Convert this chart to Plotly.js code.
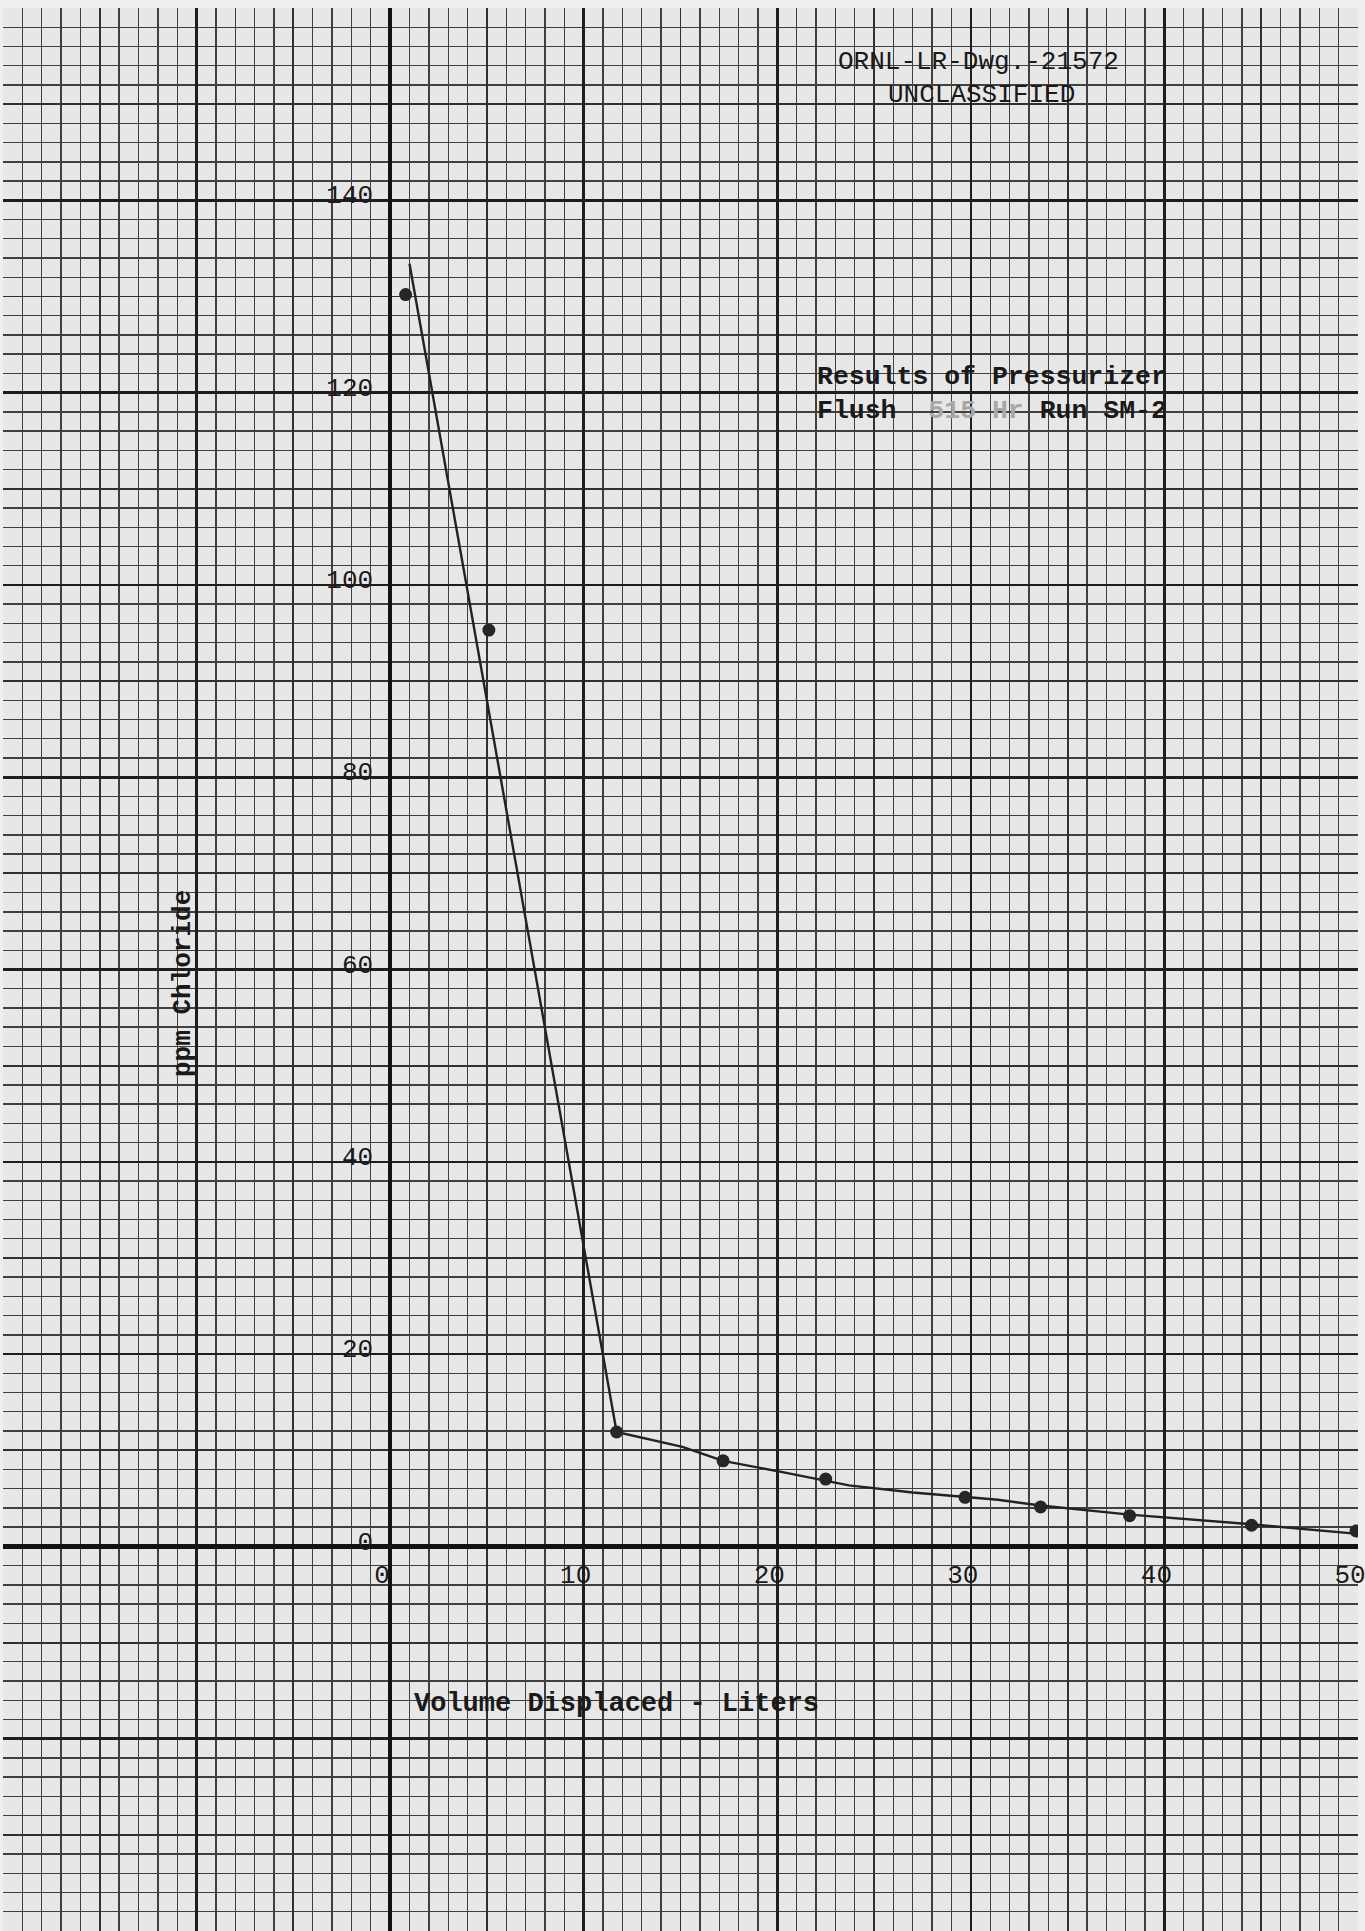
<!DOCTYPE html>
<html>
<head>
<meta charset="utf-8">
<script src="https://cdn.plot.ly/plotly-3.0.1.min.js"></script>
<style>
  html, body { margin: 0; padding: 0; background: #efefef; }
  #chart { width: 1365px; height: 1931px; }
</style>
</head>
<body>
<div id="chart"></div>
<script>
// Measured data points (volume displaced in liters, chloride in ppm)
const volumeLiters = [0.8, 5.1, 11.7, 17.2, 22.5, 29.7, 33.6, 38.2, 44.5, 49.9];
const chloridePpm  = [130.2, 95.3, 11.9, 8.9, 7.0, 5.1, 4.1, 3.2, 2.2, 1.6];

// Hand-drawn curve
const curveLiters = [1.0, 11.7, 15.1, 17.2, 20.2, 23.7, 27.0, 31.4, 33.6, 38.2, 44.5, 50.0];
const curvePpm    = [133.4, 11.9, 10.35, 8.9, 7.75, 6.35, 5.6, 4.85, 4.25, 3.3, 2.3, 1.3];

// Tick labels
const xTickVals = [-20, -10, 0, 10, 20, 30, 40, 50];
const xTickText = ['', '', '0', '10', '20', '30', '40', '50'];
const yTickVals = [-40, -20, 0, 20, 40, 60, 80, 100, 120, 140, 160];
const yTickText = ['', '', '0', '20', '40', '60', '80', '100', '120', '140', ''];

// Sheet extent (graph paper)
const xRange = [-20, 50];
const yRange = [-40, 160];

const INK = '#1a1a1a';
const MONO = '"Liberation Mono", "DejaVu Sans Mono", monospace';

const W = 1365, H = 1931;
const M = { l: 3, r: 7, t: 8, b: 0 };
const pw = W - M.l - M.r, ph = H - M.t - M.b;
const px = (x) => (x - M.l) / pw;       // page pixel -> paper fraction
const py = (y) => (H - M.b - y) / ph;

const traces = [
  {
    x: curveLiters, y: curvePpm, type: 'scatter', mode: 'lines',
    xaxis: 'x', yaxis: 'y',
    line: { color: '#222222', width: 2.4 },
    hoverinfo: 'skip', showlegend: false
  },
  {
    x: volumeLiters, y: chloridePpm, type: 'scatter', mode: 'markers',
    xaxis: 'x2', yaxis: 'y2',
    marker: { color: '#262626', size: 13 },
    showlegend: false
  }
];

const tickFont = { family: MONO, size: 26, color: INK };

const layout = {
  width: W, height: H,
  margin: M,
  paper_bgcolor: '#efefef',
  plot_bgcolor: '#e7e7e7',
  showlegend: false,
  xaxis: {
    range: xRange, autorange: false, tickmode: 'linear', tick0: 0, dtick: 5,
    showgrid: true, gridcolor: '#303030', gridwidth: 1.9,
    minor: { tick0: 0, dtick: 1, showgrid: true, gridcolor: '#404040', gridwidth: 1.4 },
    zeroline: true, zerolinecolor: '#121212', zerolinewidth: 4.5,
    showticklabels: false, ticks: '', showline: false, fixedrange: true
  },
  yaxis: {
    range: yRange, autorange: false, tickmode: 'linear', tick0: 0, dtick: 10,
    showgrid: true, gridcolor: '#303030', gridwidth: 1.9,
    minor: { tick0: 0, dtick: 2, showgrid: true, gridcolor: '#404040', gridwidth: 1.4 },
    zeroline: true, zerolinecolor: '#121212', zerolinewidth: 4.5,
    showticklabels: false, ticks: '', showline: false, fixedrange: true
  },
  xaxis2: {
    overlaying: 'x', range: xRange, autorange: false,
    anchor: 'free', position: (0 - yRange[0]) / (yRange[1] - yRange[0]),
    side: 'bottom',
    tickmode: 'array', tickvals: xTickVals, ticktext: xTickText,
    showgrid: true, gridcolor: '#1e1e1e', gridwidth: 2.6,
    zeroline: false, ticks: '', showline: false,
    tickfont: tickFont, ticklabelstandoff: 10, ticklabelshift: -8,
    ticklabeloverflow: 'allow', fixedrange: true
  },
  yaxis2: {
    overlaying: 'y', range: yRange, autorange: false,
    anchor: 'free', position: (0 - xRange[0]) / (xRange[1] - xRange[0]),
    side: 'left',
    tickmode: 'array', tickvals: yTickVals, ticktext: yTickText,
    showgrid: true, gridcolor: '#1e1e1e', gridwidth: 2.6,
    zeroline: false, ticks: '', showline: false,
    tickfont: tickFont, ticklabelstandoff: 17, ticklabelshift: -6,
    ticklabeloverflow: 'allow', fixedrange: true
  },
  annotations: [
    {
      text: 'ORNL-LR-Dwg.-21572', xref: 'paper', yref: 'paper',
      x: px(978), y: py(62), xanchor: 'center', yanchor: 'middle', showarrow: false,
      font: { family: MONO, size: 26, color: INK }
    },
    {
      text: 'UNCLASSIFIED', xref: 'paper', yref: 'paper',
      x: px(981), y: py(95), xanchor: 'center', yanchor: 'middle', showarrow: false,
      font: { family: MONO, size: 26, color: INK }
    },
    {
      text: 'Results of Pressurizer', xref: 'paper', yref: 'paper',
      x: px(815), y: py(377), xanchor: 'left', yanchor: 'middle', showarrow: false,
      font: { family: MONO, size: 26.5, color: INK, weight: 'bold' }
    },
    {
      text: 'Flush\u00a0\u00a0<span style="color:#a8a8a8">515\u00a0Hr</span>\u00a0Run\u00a0SM-2', xref: 'paper', yref: 'paper',
      x: px(815), y: py(411), xanchor: 'left', yanchor: 'middle', showarrow: false,
      font: { family: MONO, size: 26.5, color: INK, weight: 'bold' }
    },
    {
      text: 'ppm Chloride', xref: 'paper', yref: 'paper',
      x: px(183), y: py(984), xanchor: 'center', yanchor: 'middle', showarrow: false,
      textangle: -90,
      font: { family: MONO, size: 26, color: INK, weight: 'bold' }
    },
    {
      text: 'Volume Displaced - Liters', xref: 'paper', yref: 'paper',
      x: px(616), y: py(1704), xanchor: 'center', yanchor: 'middle', showarrow: false,
      font: { family: MONO, size: 27, color: INK, weight: 'bold' }
    }
  ]
};

Plotly.newPlot('chart', traces, layout, { displayModeBar: false, staticPlot: true });
</script>
</body>
</html>
